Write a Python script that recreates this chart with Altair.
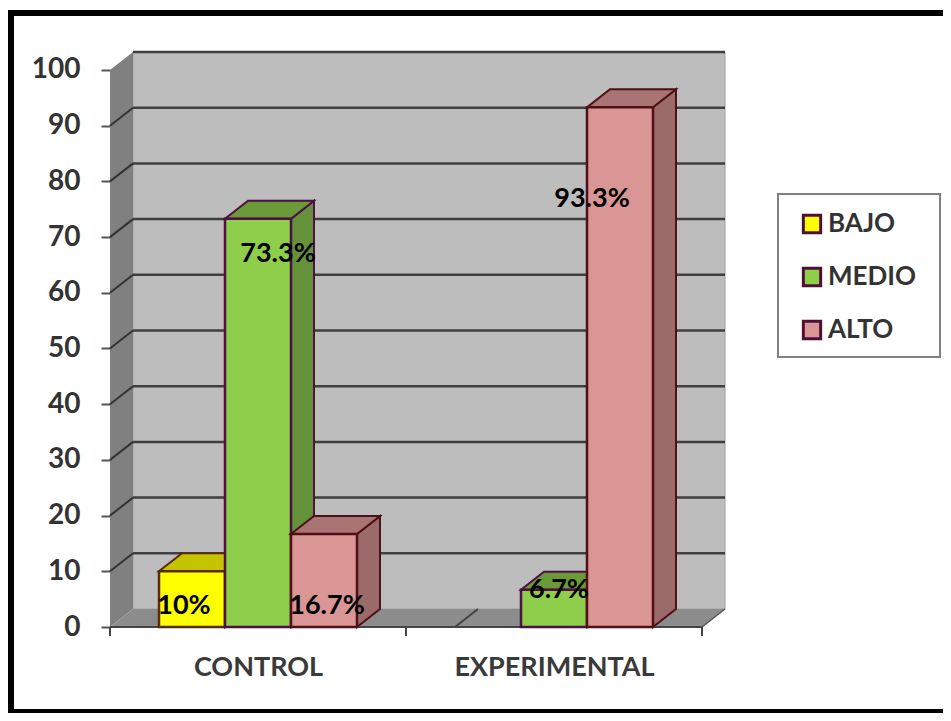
import altair as alt
import pandas as pd

groups = ["CONTROL", "EXPERIMENTAL"]
series = ["BAJO", "MEDIO", "ALTO"]
values_bajo = [10, 0]
values_medio = [73.3, 6.7]
values_alto = [16.7, 93.3]
labels_bajo = ["10%", None]
labels_medio = ["73.3%", "6.7%"]
labels_alto = ["16.7%", "93.3%"]
y_ticks = list(range(0, 101, 10))

FONT = "Lato"
W, H = 616, 575
X_MAX = W / 296
Y_MAX = 103.23
DX = 23 / 296
DY = 3.23
BAR_W = 66 / 296
GAP = (1 - 3 * BAR_W) / 2

front = {"BAJO": "#ffff00", "MEDIO": "#8fce4a", "ALTO": "#d99694"}
shade = {"BAJO": "#c4c400", "MEDIO": "#6b9b38", "ALTO": "#a87574"}
side = {"BAJO": "#a8a800", "MEDIO": "#64913a", "ALTO": "#9a6b69"}
edge = {"BAJO": "#5a2a10", "MEDIO": "#4d0f45", "ALTO": "#4f0f15"}
OUT = "#4d0f35"

xs = alt.Scale(domain=[0, X_MAX], nice=False, zero=False)
ys = alt.Scale(domain=[0, Y_MAX], nice=False, zero=False)
X = lambda f="x": alt.X(f"{f}:Q", scale=xs, axis=None, title=None)
Y = lambda f="y": alt.Y(f"{f}:Q", scale=ys, axis=None, title=None)
X2 = alt.X2("x2:Q")
Y2 = alt.Y2("y2:Q")


def df(**kw):
    return pd.DataFrame(kw)


layers = []
one = df(a=[0])

# axes carrier
layers.append(
    alt.Chart(df(x=[0.0], y=[0.0])).mark_point(opacity=0).encode(
        x=alt.X("x:Q", scale=xs, title=None, axis=alt.Axis(
            values=[0.5, 1.5], grid=False, domain=False, ticks=False, labelPadding=27,
            labelLimit=400,
            labelExpr="datum.value < 1 ? '%s' : '%s'" % tuple(groups),
            labelFont=FONT, labelFontSize=27, labelFontWeight="bold", labelColor="#3a3a3a")),
        y=alt.Y("y:Q", scale=ys, title=None, axis=alt.Axis(
            values=y_ticks, grid=False, domain=False, tickSize=9, tickWidth=2, tickColor="#555555",
            labelPadding=21, labelFont=FONT, labelFontSize=28, labelFontWeight="bold",
            labelColor="#333333")),
    )
)

# legend box
layers.append(alt.Chart(one).mark_rect(fill="white", stroke="#808080", strokeWidth=2).encode(
    x=alt.value(668), x2=alt.value(830), y=alt.value(142), y2=alt.value(305)))

# walls and floor
layers.append(alt.Chart(df(x=[DX], x2=[2 + DX], y=[DY], y2=[100 + DY])).mark_rect(
    fill="#bdbdbd", stroke="#a0a0a0", strokeWidth=1).encode(x=X(), x2=X2, y=Y(), y2=Y2))
layers.append(alt.Chart(df(x=[DX] * 10, x2=[2 + DX] * 10, y=[v + DY for v in y_ticks[1:]])).mark_rule(
    color="#3f3f3f", strokeWidth=2.5).encode(x=X(), x2=X2, y=Y()))
layers.append(alt.Chart(df(x=[0, DX], y=[0, DY], y2=[100, 100 + DY])).mark_area(
    fill="#808080").encode(x=X(), y=Y(), y2=Y2))
layers.append(alt.Chart(df(x=[0.0] * 9, x2=[DX] * 9, y=y_ticks[1:10], y2=[v + DY for v in y_ticks[1:10]])).mark_rule(
    color="#333333", strokeWidth=2).encode(x=X(), x2=X2, y=Y(), y2=Y2))
layers.append(alt.Chart(df(y=[0, DY], x=[0, DX], x2=[2, 2 + DX])).mark_area(
    orient="horizontal", fill="#8c8c8c").encode(y=Y(), x=X(), x2=X2))

# floor edges and category ticks
layers.append(alt.Chart(df(x=[0.0], x2=[2.0], y=[0.0])).mark_rule(color="#444444", strokeWidth=2).encode(x=X(), x2=X2, y=Y()))
layers.append(alt.Chart(df(x=[2.0], x2=[2 + DX], y=[0.0], y2=[DY])).mark_rule(color="#555555", strokeWidth=1.5).encode(x=X(), x2=X2, y=Y(), y2=Y2))
layers.append(alt.Chart(df(x=[0.0, 1.0, 2.0])).mark_rule(color="#444444", strokeWidth=2).encode(
    x=X(), y=alt.value(H), y2=alt.value(H + 9)))

# bars, left to right so that nearer faces overdraw
cols = {"BAJO": values_bajo, "MEDIO": values_medio, "ALTO": values_alto}
labs = {"BAJO": labels_bajo, "MEDIO": labels_medio, "ALTO": labels_alto}
offsets = {("BAJO", 0): (-8, 35), ("MEDIO", 0): (20, 35), ("ALTO", 0): (3, 72),
           ("MEDIO", 1): (5, 0), ("ALTO", 1): (-28, 92)}
texts = []
for g in range(len(groups)):
    for s, name in enumerate(series):
        v = cols[name][g]
        l = g + GAP + s * BAR_W
        r = l + BAR_W
        if v == 0:
            layers.append(alt.Chart(df(x=[l], x2=[l + DX], y=[0.0], y2=[DY])).mark_rule(
                color="#444444", strokeWidth=2).encode(x=X(), x2=X2, y=Y(), y2=Y2))
            continue
        # side
        layers.append(alt.Chart(df(x=[r, r + DX], y=[0, DY], y2=[v, v + DY])).mark_area(
            fill=side[name], stroke=edge[name], strokeWidth=2).encode(x=X(), y=Y(), y2=Y2))
        # top
        layers.append(alt.Chart(df(y=[v, v + DY], x=[l, l + DX], x2=[r, r + DX])).mark_area(
            orient="horizontal", fill=shade[name], stroke=edge[name], strokeWidth=2).encode(y=Y(), x=X(), x2=X2))
        # front
        layers.append(alt.Chart(df(x=[l], x2=[r], y=[0.0], y2=[v], serie=[name])).mark_rect(
            stroke=edge[name], strokeWidth=2.5).encode(
            x=X(), x2=X2, y=Y(), y2=Y2,
            color=alt.Color("serie:N", title=None,
                            scale=alt.Scale(domain=series, range=[front[n] for n in series]),
                            legend=alt.Legend(
                                orient="none", legendX=689, legendY=159, padding=0,
                                symbolType="square", symbolSize=300, symbolStrokeColor=OUT,
                                symbolStrokeWidth=3, labelFont=FONT, labelFontSize=26,
                                labelFontWeight="bold", labelColor="#333333", labelOffset=3,
                                rowPadding=23, labelLimit=200))))
        dx, dy = offsets[(name, g)]
        texts.append(alt.Chart(df(x=[(l + r) / 2], y=[v], t=[labs[name][g]])).mark_text(
            font=FONT, fontSize=27, fontWeight="bold", color="black", dx=dx, dy=dy, baseline="middle").encode(
            x=X(), y=Y(), text="t:N"))

# outer frame
frame = [
    alt.Chart(one).mark_rule(color="black", strokeWidth=6).encode(x=alt.value(-99), y=alt.value(-42), y2=alt.value(661)),
    alt.Chart(one).mark_rule(color="black", strokeWidth=6).encode(x=alt.value(-102), x2=alt.value(833), y=alt.value(-39)),
    alt.Chart(one).mark_rule(color="black", strokeWidth=4).encode(x=alt.value(-102), x2=alt.value(833), y=alt.value(659)),
]

chart = alt.layer(*layers, *texts, *frame).resolve_axis(x="independent", y="independent").properties(
    width=W, height=H,
    padding={"left": 102, "top": 44, "right": 217, "bottom": 86},
    autosize=alt.AutoSizeParams(type="none"),
    background="white",
).configure_view(stroke=None)

chart.save("out.html", embed_options={"renderer": "svg", "actions": False})
